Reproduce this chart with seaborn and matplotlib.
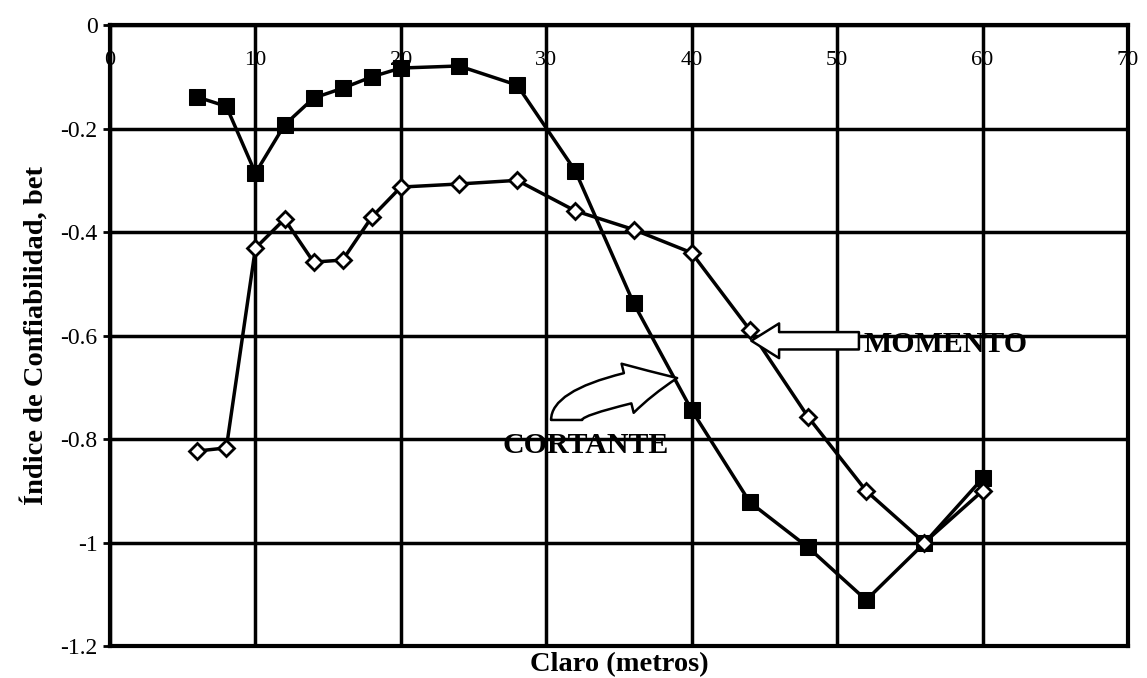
"""
Índice de confiabilidad vs claro: cortante y momento
"""

import matplotlib
matplotlib.use("Agg")
import matplotlib.pyplot as plt
import seaborn as sns
import pandas as pd

# Datos
claro = [6, 8, 10, 12, 14, 16, 18, 20, 24, 28, 32, 36, 40, 44, 48, 52, 56, 60]
cortante = [-0.139, -0.157, -0.286, -0.193, -0.141, -0.122, -0.100, -0.083, -0.079,
            -0.116, -0.282, -0.537, -0.744, -0.922, -1.009, -1.111, -1.001, -0.876]
momento = [-0.823, -0.817, -0.431, -0.375, -0.458, -0.454, -0.371, -0.313, -0.307,
           -0.300, -0.359, -0.395, -0.440, -0.589, -0.757, -0.900, -1.000, -0.900]

x_ticks = [0, 10, 20, 30, 40, 50, 60, 70]
y_ticks = [0, -0.2, -0.4, -0.6, -0.8, -1.0, -1.2]
y_tick_labels = ['0', '-0.2', '-0.4', '-0.6', '-0.8', '-1', '-1.2']

sns.set_style("white", {'text.color': 'black', 'axes.labelcolor': 'black',
                        'xtick.color': 'black', 'ytick.color': 'black'})
plt.rcParams['font.family'] = ['Liberation Serif', 'DejaVu Serif']

df = pd.DataFrame({'claro': claro, 'cortante': cortante, 'momento': momento})

fig = plt.figure(figsize=(11.47, 6.78), dpi=100)
ax = fig.add_axes([0.0959, 0.047, 0.8875, 0.916])

sns.lineplot(data=df, x='claro', y='cortante', ax=ax, color='black', linewidth=2.5,
             marker='s', markersize=12, markerfacecolor='black', markeredgecolor='black',
             zorder=4)
sns.lineplot(data=df, x='claro', y='momento', ax=ax, color='black', linewidth=2.5,
             marker='D', markersize=8.5, markerfacecolor='white', markeredgecolor='black',
             markeredgewidth=2, zorder=5)

ax.set_xlim(0, 70)
ax.set_ylim(-1.2, 0)

# ticks del eje x dentro del area, arriba
ax.xaxis.tick_top()
ax.set_xticks(x_ticks)
ax.set_xticklabels([str(t) for t in x_ticks])
ax.tick_params(axis='x', length=0, pad=-32, labelsize=16, labelcolor='black')
ax.set_yticks(y_ticks)
ax.set_yticklabels(y_tick_labels)
ax.tick_params(axis='y', left=True, length=5, width=2, labelsize=17, pad=4,
               labelcolor='black')

ax.grid(True, color='black', linewidth=2.5)
ax.set_axisbelow(True)
for s in ax.spines.values():
    s.set_linewidth(3)
    s.set_color('black')

ax.set_xlabel('Claro (metros)', fontsize=20.5, fontweight='bold', labelpad=4, color='black')
ax.xaxis.set_label_position('bottom')
ax.set_ylabel('Índice de Confiabilidad, bet', fontsize=20.5, fontweight='bold',
              labelpad=8, color='black')

# flecha MOMENTO
ax.annotate('', xy=(44.1, -0.61), xytext=(51.5, -0.61),
            arrowprops=dict(arrowstyle='simple,head_width=1.0,head_length=0.8,tail_width=0.5',
                            fc='white', ec='black', lw=1.8, shrinkA=0, shrinkB=0,
                            mutation_scale=25), zorder=6)
ax.text(51.8, -0.618, 'MOMENTO', fontsize=21.5, fontweight='bold', ha='left', va='center',
        color='black')

# flecha curva CORTANTE
ax.annotate('', xy=(39.0, -0.682), xytext=(31.4, -0.763),
            arrowprops=dict(arrowstyle='simple,head_width=1.3,head_length=1.3,tail_width=0.8',
                            connectionstyle='angle3,angleA=90,angleB=10',
                            fc='white', ec='black', lw=1.8, shrinkA=0, shrinkB=0,
                            mutation_scale=28), zorder=6)
ax.text(32.7, -0.812, 'CORTANTE', fontsize=21.5, fontweight='bold', ha='center', va='center',
        color='black')

plt.savefig('out.png', dpi=100)
plt.close()
